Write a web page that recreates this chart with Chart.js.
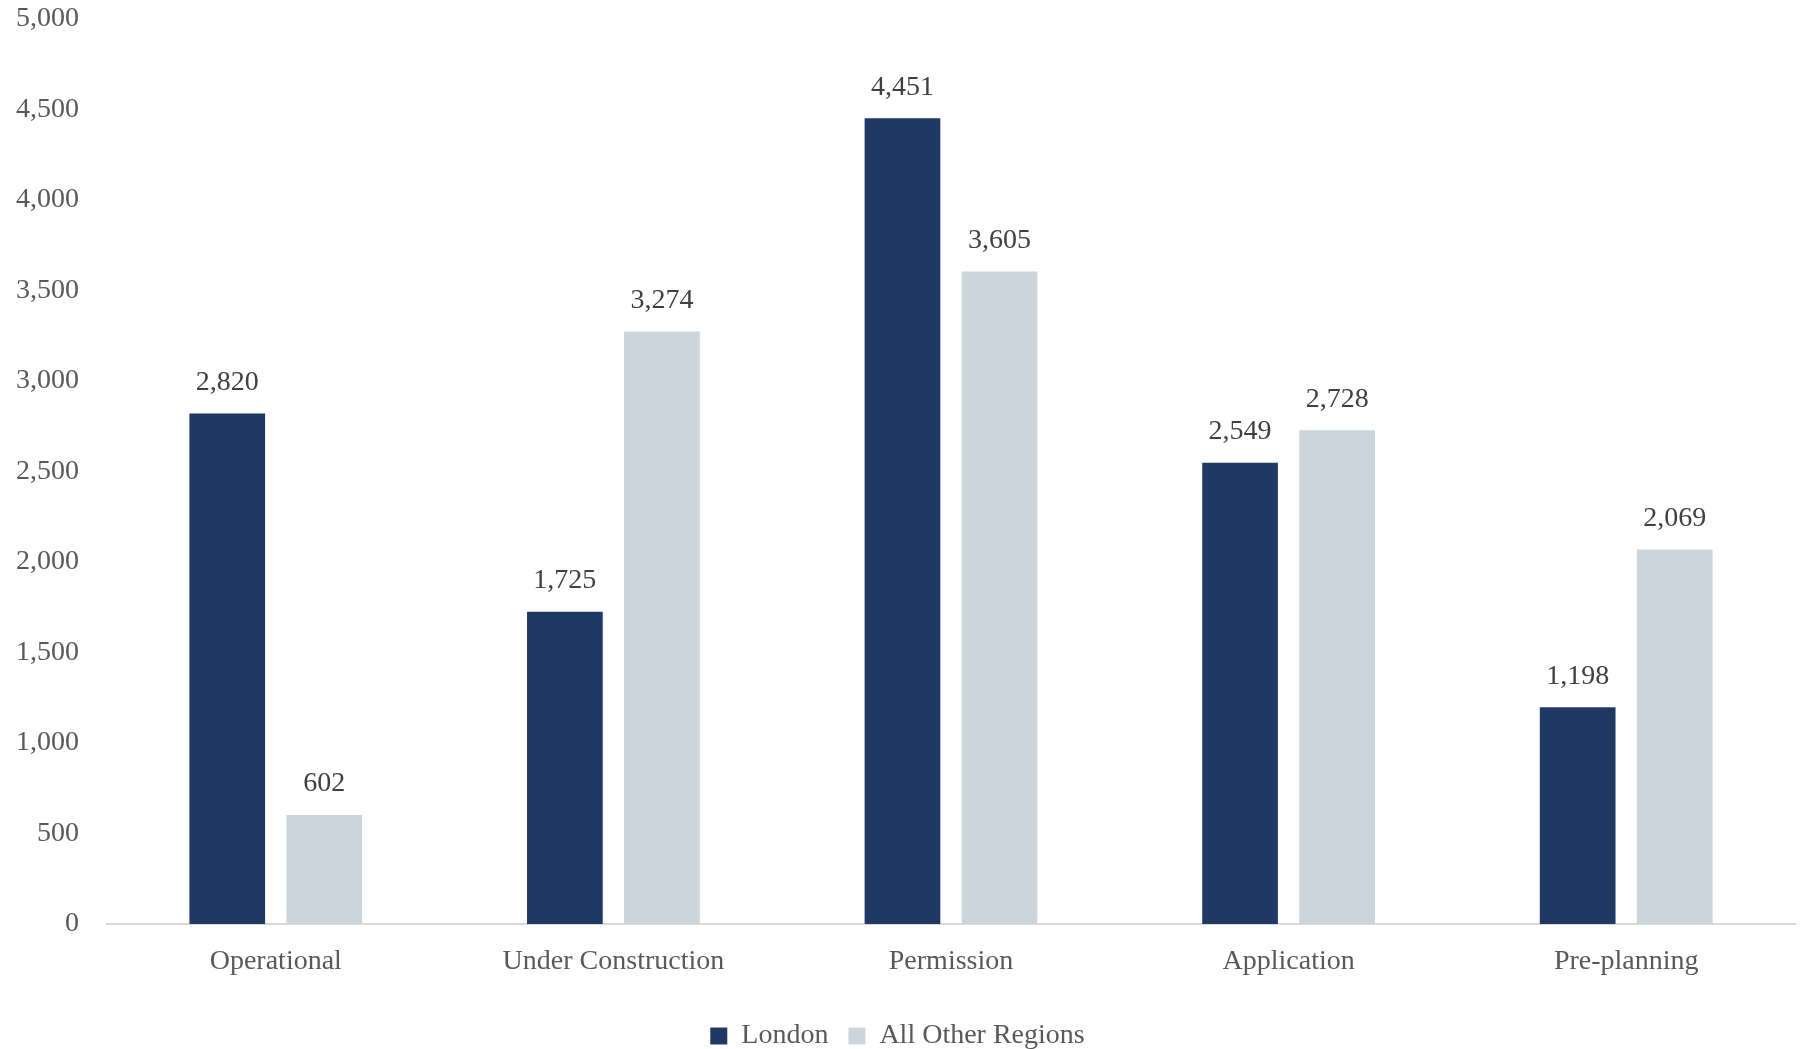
<!DOCTYPE html>
<html>
<head>
<meta charset="utf-8">
<script src="https://cdn.jsdelivr.net/npm/chart.js@4.4.1/dist/chart.umd.min.js"></script>
<style>
  html, body { margin: 0; padding: 0; background: #ffffff; }
  #wrap { width: 1805px; height: 1049px; }
</style>
</head>
<body>
<div id="wrap"><canvas id="pipelineChart"></canvas></div>
<script>
    const navy = '#203864';
    const paleGrey = '#CBD5DC';
    const textGrey = '#595959';
    const labelDark = '#404040';
    const serif = "'Liberation Serif', 'DejaVu Serif', serif";

    const stages = ['Operational', 'Under Construction', 'Permission', 'Application', 'Pre-planning'];
    const londonValues = [2820, 1725, 4451, 2549, 1198];
    const otherRegionValues = [602, 3274, 3605, 2728, 2069];

    const fmt = new Intl.NumberFormat('en-GB');

    // value labels sitting above each bar
    const barValueLabels = {
        id: 'barValueLabels',
        afterDatasetsDraw(chart) {
            const ctx = chart.ctx;
            ctx.save();
            ctx.font = '28px ' + serif;
            ctx.fillStyle = labelDark;
            ctx.textAlign = 'center';
            ctx.textBaseline = 'middle';
            chart.data.datasets.forEach((ds, i) => {
                chart.getDatasetMeta(i).data.forEach((bar, j) => {
                    ctx.fillText(fmt.format(ds.data[j]), bar.x, bar.y - 31);
                });
            });
            ctx.restore();
        }
    };

    const ctx = document.getElementById('pipelineChart').getContext('2d');
    new Chart(ctx, {
        type: 'bar',
        data: {
            labels: stages,
            datasets: [
                { label: 'London', data: londonValues, backgroundColor: navy },
                { label: 'All Other Regions', data: otherRegionValues, backgroundColor: paleGrey }
            ]
        },
        options: {
            responsive: true,
            maintainAspectRatio: false,
            animation: false,
            categoryPercentage: 0.575,
            barPercentage: 0.78,
            layout: { padding: { top: 19, right: 10, left: 0, bottom: -11 } },
            scales: {
                x: {
                    grid: { display: false, drawTicks: false },
                    border: { color: '#D9D9D9', width: 2 },
                    ticks: { color: textGrey, font: { family: serif, size: 28 }, padding: 21 },
                    afterFit: function(scale) { scale.height = 78; }
                },
                y: {
                    min: 0,
                    max: 5000,
                    // hidden tick marks give the gap between labels and plot
                    grid: { display: false, drawTicks: true, tickLength: 28 },
                    border: { display: false },
                    ticks: {
                        stepSize: 500,
                        color: textGrey,
                        font: { family: serif, size: 28 },
                        padding: 0,
                        callback: function(value) { return fmt.format(value); }
                    },
                    afterFit: function(scale) { scale.width = 107; }
                }
            },
            plugins: {
                legend: {
                    position: 'bottom',
                    labels: {
                        color: textGrey,
                        font: { family: serif, size: 28 },
                        boxWidth: 17,
                        boxHeight: 17,
                        padding: 20
                    }
                },
                tooltip: { enabled: false }
            }
        },
        plugins: [barValueLabels]
    });
</script>
</body>
</html>
